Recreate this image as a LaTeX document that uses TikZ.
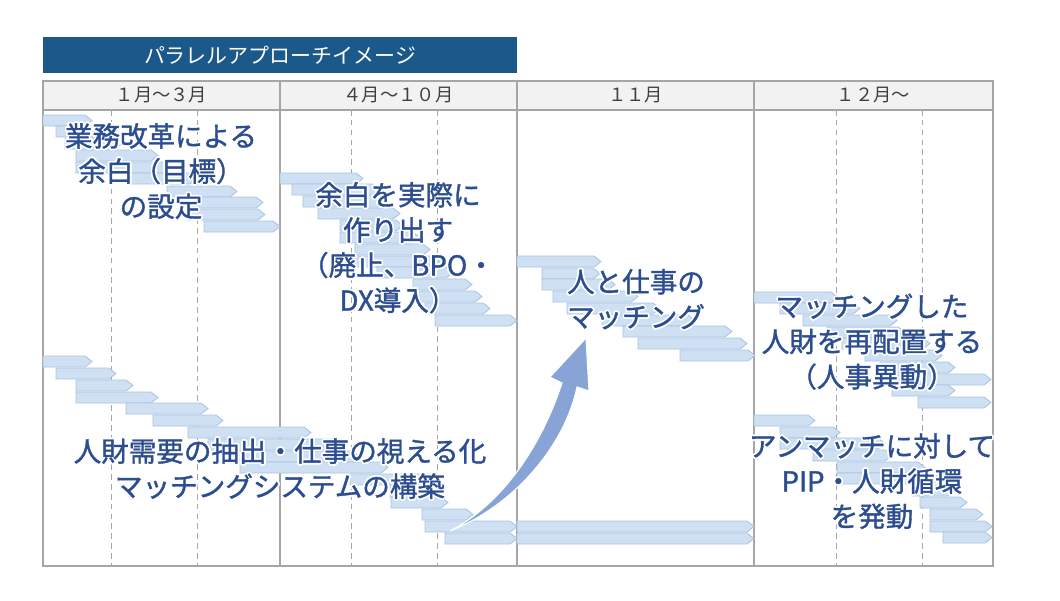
\documentclass[tikz,border=0pt]{standalone}
\usepackage{fontspec}
\setmainfont{Noto Sans CJK JP}
\newfontfamily\jpbold{Noto Sans CJK JP}[FakeBold=1.3]
\usepackage[copies]{contour}
\contourlength{1.2pt}
\usepackage{tikz}
\usetikzlibrary{positioning}

\definecolor{titleblue}{RGB}{28,89,139}
\definecolor{textblue}{RGB}{44,78,145}
\definecolor{barfill}{RGB}{207,224,242}
\definecolor{barline}{RGB}{168,195,230}
\definecolor{gridgray}{RGB}{166,166,166}
\definecolor{headgray}{RGB}{242,242,242}
\definecolor{flowblue}{RGB}{136,164,215}

\newcommand{\wl}[1]{\contour{white}{#1}}

\begin{document}
\begin{tikzpicture}[x=0.025cm,y=-0.025cm,
    grid/.style={draw=gridgray, line width=0.8pt},
    subgrid/.style={draw=gridgray, line width=0.7pt, dash pattern=on 4pt off 3pt},
    gbar/.style={fill=barfill, draw=barline, line width=0.6pt},
    month/.style={inner sep=0pt, text=black!75, font=\fontsize{13pt}{15pt}\selectfont},
    txt/.style={inner sep=0pt, align=center, text=textblue, font=\jpbold\fontsize{19.6pt}{25pt}\selectfont},
    flow/.style={fill=flowblue, draw=white, line width=0.8pt},
  ]

    \useasboundingbox (0,0) rectangle (1060,600);

    \fill[titleblue] (43,37) rectangle (517,73);
    \node (title) at (280,55) [inner sep=0pt, text=white, font=\fontsize{14.9pt}{17pt}\selectfont] {パラレルアプローチイメージ};

    \fill[headgray] (43,81) rectangle (993,110);
    \foreach \x in {111,197,351,437,836,922}
      \draw[subgrid] (\x,110) -- (\x,566);
    \draw[grid] (43,81) rectangle (993,566);
    \draw[grid] (43,110) -- (993,110);
    \foreach \x in {280,517,754}
      \draw[grid] (\x,81) -- (\x,566);

    \node (m1) at (161.5,95.5) [month] {１月～３月};
    \node (m2) at (398.5,95.5) [month] {４月～１０月};
    \node (m3) at (635.5,95.5) [month] {１１月};
    \node (m4) at (873.5,95.5) [month] {１２月～};

    \foreach \a/\b/\c in {43/92/115, 56/108/126, 65/122/138, 76/158/150, 76/170/162,
        128/197/173, 167/237/186, 187/263/197, 187/265/209, 204/280/221,
        280/363/173, 292/380/184, 303/385/196, 318/400/208, 340/403/220, 340/420/232,
        355/430/244, 355/440/256, 377/453/267, 413/472/279, 413/482/291, 425/490/303, 435/517/315,
        517/601/256, 542/600/268, 542/615/279, 553/638/291, 567/660/303, 602/695/315,
        623/732/326, 638/747/338, 680/755/350,
        754/838/292, 780/860/303, 803/897/315, 827/905/327, 842/930/338, 865/942/350,
        880/955/362, 892/991/374, 892/955/385, 918/991/397,
        754/815/415, 780/840/427, 780/885/438, 813/892/450, 837/925/462, 837/940/473,
        912/955/485, 920/967/497, 930/983/509, 930/992/521, 943/992/532,
        43/92/356, 56/116/368, 76/133/380, 76/158/392, 126/208/403, 153/223/415,
        188/311/427, 208/342/439, 230/360/451, 240/388/462, 350/440/474, 390/442/486,
        391/448/497, 422/473/509, 425/517/521, 445/517/533,
        517/754/521, 517/754/533}
      \draw[gbar] (\a,\c) -- ({\b-7},\c) -- (\b,{\c+5.5}) -- ({\b-7},{\c+11}) -- (\a,{\c+11}) -- cycle;

    \coordinate (tail) at (450,531);
    \coordinate (tip) at (586,338);
    \draw[flow] (tail) .. controls (500,505) and (540,450) .. (562,383) -- (550,377) -- (tip)
      -- (589,391) -- (577,387) .. controls (565,445) and (515,505) .. (tail) -- cycle;

    \node (goal) at (161,172) [txt] {\wl{業務改革による}\\\wl{余白（目標）}\\\wl{の設定}};
    \node (create) at (398,248.5) [txt] {\wl{余白を実際に}\\\wl{作り出す}\\\wl{（廃止、BPO・}\\\wl{DX導入）}};
    \node (match) at (636,300) [txt] {\wl{人と仕事の}\\\wl{マッチング}};
    \node (move) at (872,342.5) [txt] {\wl{マッチングした}\\\wl{人財を再配置する}\\\wl{（人事異動）}};
    \node (pip) at (872,482) [txt] {\wl{アンマッチに対して}\\\wl{PIP・人財循環}\\\wl{を発動}};
    \node (system) at (280,469.5) [txt] {\wl{人財需要の抽出・仕事の視える化}\\\wl{マッチングシステムの構築}};

  \end{tikzpicture}
\end{document}
